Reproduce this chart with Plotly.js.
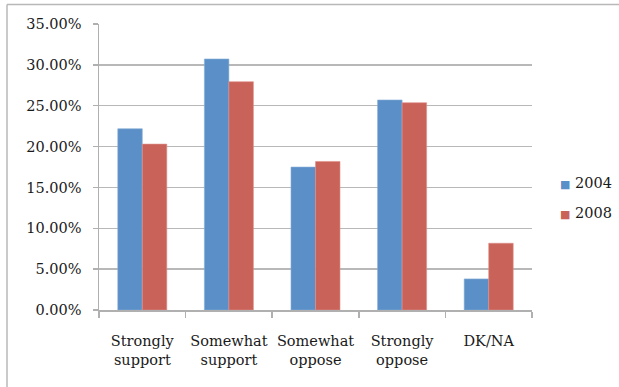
<!DOCTYPE html>
<html>
<head>
<meta charset="utf-8">
<script src="https://cdn.plot.ly/plotly-3.0.1.min.js"></script>
<style>
html,body{margin:0;padding:0;background:#fff;}
#chart{width:619px;height:387px;}
</style>
</head>
<body>
<div id="chart"></div>
<script>
const categories = ["Strongly<br>support", "Somewhat<br>support", "Somewhat<br>oppose", "Strongly<br>oppose", "DK/NA"];
const seriesNames = ["2004", "2008"];
const values2004 = [0.2218, 0.3072, 0.1749, 0.2570, 0.0380];
const values2008 = [0.2030, 0.2794, 0.1818, 0.2537, 0.0817];
const yTicks = [0, 0.05, 0.10, 0.15, 0.20, 0.25, 0.30, 0.35];
const colors = ["#5B8FC7", "#C9635A"];

const W = 619, H = 387;
const M = {l: 99, r: 87, t: 24, b: 77};
const pw = W - M.l - M.r, ph = H - M.t - M.b;
const px = x => (x - M.l) / pw;
const py = y => 1 - (y - M.t) / ph;

const font = {family: "'DejaVu Serif', serif", size: 14.5, color: "#1a1a1a"};

const traces = [
  {type: "bar", name: seriesNames[0], x: categories, y: values2004, showlegend: false,
   marker: {color: colors[0], line: {color: "#86aed8", width: 0.6}}},
  {type: "bar", name: seriesNames[1], x: categories, y: values2008, showlegend: false,
   marker: {color: colors[1], line: {color: "#dd918a", width: 0.6}}}
];

const legendY = [183, 213];
const annotations = seriesNames.map((n, i) => ({
  xref: "paper", yref: "paper", x: px(558), y: py(legendY[i]),
  xanchor: "left", yanchor: "middle", showarrow: false,
  text: '<span style="color:' + colors[i] + ';font-size:11px">■</span> ' + n,
  font: font
}));

const layout = {
  width: W, height: H,
  margin: M,
  paper_bgcolor: "#fff", plot_bgcolor: "#fff",
  font: font,
  barmode: "group",
  bargap: 0.434,
  bargroupgap: 0,
  showlegend: false,
  annotations: annotations,
  xaxis: {
    type: "category",
    showgrid: false, zeroline: false,
    showline: true, linecolor: "#b0b0b0", linewidth: 1.5,
    ticks: "outside", tickson: "boundaries", ticklen: 6, tickwidth: 1.5, tickcolor: "#b0b0b0",
    tickangle: 0,
    tickfont: font, ticklabelstandoff: 17, fixedrange: true
  },
  yaxis: {
    range: [0, 0.35], tickvals: yTicks, tickformat: ".2%",
    showgrid: true, gridcolor: "#b8b8b8", gridwidth: 1.5,
    zeroline: false,
    showline: true, linecolor: "#b0b0b0", linewidth: 1.5,
    ticks: "outside", ticklen: 5, tickwidth: 1.5, tickcolor: "#b0b0b0",
    tickfont: font, ticklabelstandoff: 8, fixedrange: true
  },
  shapes: [
    {type: "line", xref: "paper", yref: "paper", x0: px(7), x1: px(7), y0: py(4.5), y1: py(400),
     line: {color: "#b8b8b8", width: 1.5}},
    {type: "line", xref: "paper", yref: "paper", x0: px(7), x1: px(640), y0: py(4.5), y1: py(4.5),
     line: {color: "#b8b8b8", width: 1.5}}
  ]
};

Plotly.newPlot("chart", traces, layout, {displayModeBar: false, staticPlot: true});
</script>
</body>
</html>
